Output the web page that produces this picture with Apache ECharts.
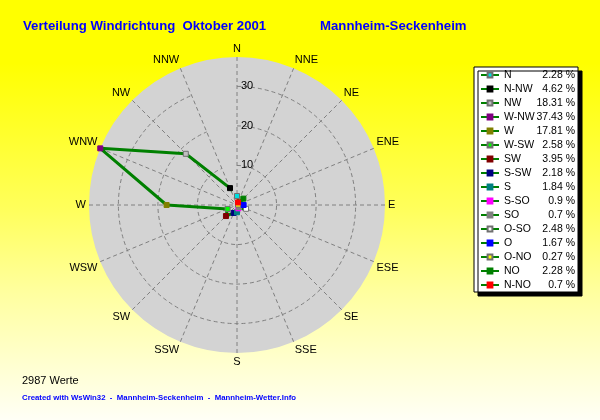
<!DOCTYPE html>
<html>
<head>
<meta charset="utf-8">
<script src="https://cdn.jsdelivr.net/npm/echarts@6/dist/echarts.min.js"></script>
<style>
  html, body { margin: 0; padding: 0; }
  #chart { width: 600px; height: 420px; }
</style>
</head>
<body>
<div id="chart"></div>
<script>
// Compass points around the rose, clockwise from north
const compass = ['N', 'NNE', 'NE', 'ENE', 'E', 'ESE', 'SE', 'SSE',
                 'S', 'SSW', 'SW', 'WSW', 'W', 'WNW', 'NW', 'NNW'];

// Legend entries (German names) and the compass point each belongs to
const seriesNames = ['N', 'N-NW', 'NW', 'W-NW', 'W', 'W-SW', 'SW', 'S-SW',
                     'S', 'S-SO', 'SO', 'O-SO', 'O', 'O-NO', 'NO', 'N-NO'];
const seriesDirs  = ['N', 'NNW', 'NW', 'WNW', 'W', 'WSW', 'SW', 'SSW',
                     'S', 'SSE', 'SE', 'ESE', 'E', 'ENE', 'NE', 'NNE'];

// Share of readings per direction, percent
const shares = [2.28, 4.62, 18.31, 37.43, 17.81, 2.58, 3.95, 2.18,
                1.84, 0.9, 0.7, 2.48, 1.67, 0.27, 2.28, 0.7];

// Ring labels on the radius axis
const ringTicks = [10, 20, 30];

const markerColors = ['#00e0e0', '#000000', '#c0c0c0', '#800080', '#808000', '#00ff00',
                      '#800000', '#000080', '#008080', '#ff00ff', '#808080', '#ffffff',
                      '#0000ff', '#ffff00', '#008000', '#ff0000'];

const FONT = '"Liberation Sans", Arial, sans-serif';
const LINE_GREEN = '#008000';
const GRID_GREY = '#808080';
const maxShare = Math.max(...shares);

const chart = echarts.init(document.getElementById('chart'), null, { renderer: 'canvas' });

// closed outline through all directions, drawn under the markers
const outline = seriesDirs.map((d, i) => [shares[i], d]);
outline.push([shares[0], seriesDirs[0]]);

const series = [{
  name: 'outline',
  type: 'line',
  coordinateSystem: 'polar',
  polarIndex: 1,
  data: outline,
  showSymbol: false,
  symbol: 'none',
  silent: true,
  animation: false,
  lineStyle: { color: LINE_GREEN, width: 3 },
  z: 3
}];

seriesNames.forEach((name, i) => {
  const light = ['#ffffff', '#c0c0c0', '#00e0e0', '#ffff00', '#00ff00'].includes(markerColors[i]);
  series.push({
    name: name,
    type: 'line',
    coordinateSystem: 'polar',
    polarIndex: 1,
    data: [[shares[i], seriesDirs[i]]],
    symbol: 'rect',
    symbolSize: 5,
    showSymbol: true,
    animation: false,
    itemStyle: {
      color: markerColors[i],
      borderColor: light ? '#707070' : markerColors[i],
      borderWidth: 1
    },
    lineStyle: { color: LINE_GREEN, width: 2 },
    z: 4
  });
});

const option = {
  animation: false,
  backgroundColor: {
    type: 'linear', x: 0, y: 0, x2: 0, y2: 1,
    colorStops: [
      { offset: 0, color: '#ffff00' },
      { offset: 0.15, color: '#ffff00' },
      { offset: 0.5, color: '#ffff5c' },
      { offset: 0.7, color: '#ffffa0' },
      { offset: 1, color: '#fffff6' }
    ]
  },
  title: [
    { text: 'Verteilung Windrichtung  Oktober 2001', left: 23, top: 20, padding: 0,
      textStyle: { fontFamily: FONT, fontSize: 13.2, fontWeight: 'bold', color: '#0000ff' } },
    { text: 'Mannheim-Seckenheim', left: 320, top: 20, padding: 0,
      textStyle: { fontFamily: FONT, fontSize: 13.2, fontWeight: 'bold', color: '#0000ff' } },
    { text: '2987 Werte', left: 22, top: 375, padding: 0,
      textStyle: { fontFamily: FONT, fontSize: 11, fontWeight: 'normal', color: '#000000' } },
    { text: 'Created with WsWin32  -  Mannheim-Seckenheim  -  Mannheim-Wetter.Info', left: 22, top: 394, padding: 0,
      textStyle: { fontFamily: FONT, fontSize: 7.8, fontWeight: 'bold', color: '#0000ff' } }
  ],
  legend: {
    orient: 'vertical',
    left: 474,
    top: 67,
    data: seriesNames,
    selectedMode: false,
    itemWidth: 18,
    itemHeight: 6,
    itemGap: 2,
    padding: [2, 3, 1, 6],
    backgroundColor: '#ffffff',
    borderColor: '#000000',
    borderWidth: 1,
    borderRadius: 0,
    shadowColor: '#000000',
    shadowBlur: 0,
    shadowOffsetX: 4,
    shadowOffsetY: 4,
    formatter: name => {
      const i = seriesNames.indexOf(name);
      return '{n|' + name + '}{v|' + shares[i] + ' %}';
    },
    textStyle: {
      fontFamily: FONT,
      fontSize: 10,
      color: '#000000',
      lineHeight: 12,
      rich: {
        n: { fontFamily: FONT, fontSize: 10.5, width: 31, lineHeight: 12, color: '#000' },
        v: { fontFamily: FONT, fontSize: 10.5, width: 40, align: 'right', lineHeight: 12, color: '#000' }
      }
    }
  },
  // polar 0 paints the grey disk, polar 1 carries the grid, labels and data
  polar: [
    { center: [237, 205], radius: 148 },
    { center: [237, 205], radius: 148 }
  ],
  angleAxis: [{
    polarIndex: 0,
    type: 'category',
    data: compass,
    boundaryGap: false,
    startAngle: 90,
    clockwise: true,
    axisLine: { show: false },
    axisTick: { show: false },
    axisLabel: { show: false },
    splitLine: { show: false },
    splitArea: { show: true, areaStyle: { color: ['#d3d3d3'] } },
    silent: true,
    z: 0
  }, {
    polarIndex: 1,
    type: 'category',
    data: compass,
    boundaryGap: false,
    startAngle: 90,
    clockwise: true,
    axisLine: { show: false },
    axisTick: { show: false },
    axisLabel: { fontFamily: FONT, fontSize: 11, color: '#000000', margin: 3 },
    splitLine: { show: true, lineStyle: { color: GRID_GREY, width: 1, type: [4, 3] } },
    splitArea: { show: false },
    z: 2
  }],
  radiusAxis: [{
    polarIndex: 0,
    type: 'value',
    min: 0,
    max: maxShare,
    show: false
  }, {
    polarIndex: 1,
    type: 'value',
    min: 0,
    max: maxShare,
    interval: 10,
    axisLine: { show: false },
    axisTick: { show: false },
    axisLabel: {
      fontFamily: FONT, fontSize: 11, color: '#000000', margin: -4, align: 'left',
      formatter: v => ringTicks.includes(v) ? String(v) : ''
    },
    splitLine: {
      show: true,
      lineStyle: { color: [GRID_GREY, GRID_GREY, GRID_GREY, GRID_GREY, 'rgba(0,0,0,0)'], width: 1, type: [4, 3] }
    },
    splitArea: { show: false },
    z: 2
  }],
  series: series
};

chart.setOption(option);
</script>
</body>
</html>
